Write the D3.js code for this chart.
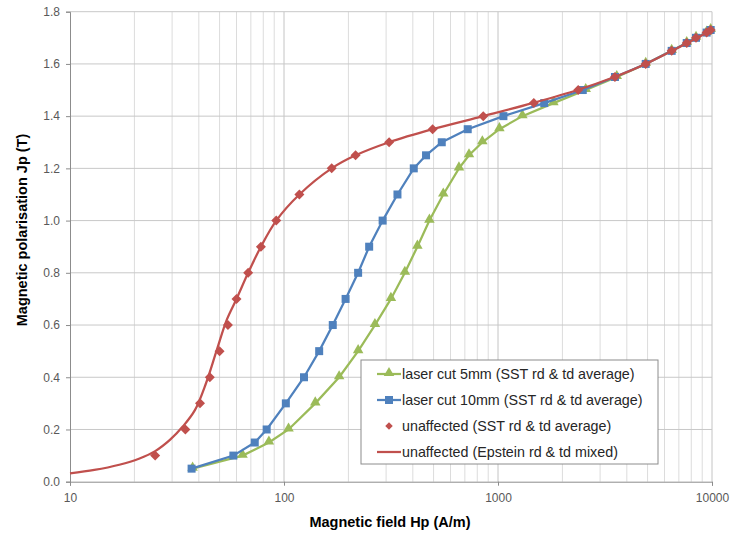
<!DOCTYPE html>
<html>
<head>
<meta charset="utf-8">
<script src="https://cdn.jsdelivr.net/npm/d3@7"></script>
<style>
  body { margin: 0; background: #fff; }
  text { font-family: "Liberation Sans", Arial, sans-serif; }
</style>
</head>
<body>
<div id="chart"></div>
<script>
const WIDTH = 731;
const HEIGHT = 534;
const M = { left: 70, right: 19, top: 11.7, bottom: 52.3 };

// unaffected, SST rd & td average (markers only)
const sstH = [25, 34.6, 40.5, 45, 50, 54.7, 60, 68, 78, 92, 118, 167, 216, 310, 495, 853, 1470, 2370, 3520, 4900, 6480, 7620, 8420, 9440, 9860];
const sstJ = [0.1, 0.2, 0.3, 0.4, 0.5, 0.6, 0.7, 0.8, 0.9, 1.0, 1.1, 1.2, 1.25, 1.3, 1.35, 1.4, 1.45, 1.5, 1.55, 1.6, 1.65, 1.68, 1.7, 1.72, 1.73];

// laser cut 10mm
const cut10H = [37, 58, 73, 83, 102, 124, 146, 169, 194, 222, 250, 289, 339, 404, 461, 546, 722, 1060, 1645, 2490, 3520, 4900, 6480, 7620, 8420, 9440, 9860];
const cut10J = [0.05, 0.1, 0.15, 0.2, 0.3, 0.4, 0.5, 0.6, 0.7, 0.8, 0.9, 1.0, 1.1, 1.2, 1.25, 1.3, 1.35, 1.4, 1.45, 1.5, 1.55, 1.6, 1.65, 1.68, 1.7, 1.72, 1.73];

// laser cut 5mm
const cut5H = [37.4, 64, 85, 105, 140, 181, 222, 266, 316, 367, 420, 478, 555, 657, 732, 845, 1015, 1300, 1815, 2570, 3590, 4900, 6480, 7620, 8420, 9440, 9860];
const cut5J = [0.05, 0.1, 0.15, 0.2, 0.3, 0.4, 0.5, 0.6, 0.7, 0.8, 0.9, 1.0, 1.1, 1.2, 1.25, 1.3, 1.35, 1.4, 1.45, 1.5, 1.55, 1.6, 1.65, 1.68, 1.7, 1.72, 1.73];

// unaffected, Epstein rd & td mixed (smooth line)
const epsH = [10, 13, 17, 21, 25, 29.3, 33.8, 38.4, 43.2, 48.5, 54, 60, 68, 78, 92, 118, 167, 216, 310, 495, 853, 1450, 2350, 3500, 4900, 6500, 10000];
const epsJ = [0.032, 0.045, 0.065, 0.088, 0.117, 0.16, 0.213, 0.275, 0.377, 0.504, 0.62, 0.7, 0.8, 0.9, 1.0, 1.1, 1.2, 1.25, 1.3, 1.35, 1.4, 1.45, 1.5, 1.55, 1.6, 1.65, 1.73];

const xTicks = [10, 100, 1000, 10000];
const yTicks = [0, 0.2, 0.4, 0.6, 0.8, 1.0, 1.2, 1.4, 1.6, 1.8];

const legendLabels = [
  "laser cut 5mm (SST rd & td average)",
  "laser cut 10mm (SST rd & td average)",
  "unaffected (SST rd & td average)",
  "unaffected (Epstein rd & td mixed)"
];

const GREEN = "#9bbb59", BLUE = "#4f81bd", RED = "#c0504d";

const svg = d3.select("#chart").append("svg")
  .attr("width", WIDTH).attr("height", HEIGHT);

const x = d3.scaleLog().domain([10, 10000]).range([M.left, WIDTH - M.right]);
const y = d3.scaleLinear().domain([0, 1.8]).range([HEIGHT - M.bottom, M.top]);

// minor vertical gridlines
const minor = [];
[10, 100, 1000].forEach(d => { for (let k = 2; k <= 9; k++) minor.push(d * k); });
svg.append("g").selectAll("line").data(minor).enter().append("line")
  .attr("x1", d => x(d)).attr("x2", d => x(d))
  .attr("y1", y(0)).attr("y2", y(1.8))
  .attr("stroke", "#dcdcdc").attr("stroke-width", 1);

// major vertical gridlines
svg.append("g").selectAll("line").data(xTicks.slice(1)).enter().append("line")
  .attr("x1", d => x(d)).attr("x2", d => x(d))
  .attr("y1", y(0)).attr("y2", y(1.8))
  .attr("stroke", "#c4c4c4").attr("stroke-width", 1);

// horizontal gridlines
svg.append("g").selectAll("line").data(yTicks.slice(1)).enter().append("line")
  .attr("x1", x(10)).attr("x2", x(10000))
  .attr("y1", d => y(d)).attr("y2", d => y(d))
  .attr("stroke", "#c8c8c8").attr("stroke-width", 1);

// axes
const xAxis = svg.append("g")
  .attr("transform", `translate(0,${y(0)})`)
  .call(d3.axisBottom(x).tickValues(xTicks).tickFormat(d3.format("d")).tickSize(4).tickPadding(8));
const yAxis = svg.append("g")
  .attr("transform", `translate(${x(10)},0)`)
  .call(d3.axisLeft(y).tickValues(yTicks).tickFormat(d3.format(".1f")).tickSize(4).tickPadding(6));
[xAxis, yAxis].forEach(a => {
  a.select(".domain").attr("stroke", "#8c8c8c");
  a.selectAll(".tick line").attr("stroke", "#8c8c8c");
  a.selectAll(".tick text").attr("fill", "#595959")
    .style("font-family", "Liberation Sans, Arial, sans-serif").style("font-size", "12px");
});

// series
const line = d3.line().x(d => x(d[0])).y(d => y(d[1]));
const smooth = d3.line().x(d => x(d[0])).y(d => y(d[1])).curve(d3.curveCatmullRom.alpha(0.5));

const cut5 = cut5H.map((h, i) => [h, cut5J[i]]);
const cut10 = cut10H.map((h, i) => [h, cut10J[i]]);
const sst = sstH.map((h, i) => [h, sstJ[i]]);
const eps = epsH.map((h, i) => [h, epsJ[i]]);

const tri = d3.symbol().type(d3.symbolTriangle).size(48)();
const sq = d3.symbol().type(d3.symbolSquare).size(64)();
const dia = d3.symbol().type(d3.symbolSquare).size(50)();

svg.append("path").datum(cut5).attr("d", line)
  .attr("fill", "none").attr("stroke", GREEN).attr("stroke-width", 2.25);
svg.append("g").selectAll("path").data(cut5).enter().append("path")
  .attr("d", tri).attr("transform", d => `translate(${x(d[0])},${y(d[1]) - 1})`)
  .attr("fill", GREEN);

svg.append("path").datum(cut10).attr("d", line)
  .attr("fill", "none").attr("stroke", BLUE).attr("stroke-width", 2.25);
svg.append("g").selectAll("path").data(cut10).enter().append("path")
  .attr("d", sq).attr("transform", d => `translate(${x(d[0])},${y(d[1])})`)
  .attr("fill", BLUE);

svg.append("g").selectAll("path").data(sst).enter().append("path")
  .attr("d", dia).attr("transform", d => `translate(${x(d[0])},${y(d[1])}) rotate(45)`)
  .attr("fill", RED);

svg.append("path").datum(eps).attr("d", smooth)
  .attr("fill", "none").attr("stroke", RED).attr("stroke-width", 2.25);

// axis titles
svg.append("text")
  .attr("x", 390).attr("y", 527)
  .attr("text-anchor", "middle")
  .style("font-size", "14.5px").style("font-weight", "bold")
  .text("Magnetic field Hp (A/m)");

svg.append("text")
  .attr("transform", "translate(27,230) rotate(-90)")
  .attr("text-anchor", "middle")
  .style("font-size", "14.5px").style("font-weight", "bold")
  .text("Magnetic polarisation Jp (T)");

// legend
const lg = svg.append("g").attr("transform", "translate(361,360)");
lg.append("rect").attr("width", 297).attr("height", 104)
  .attr("fill", "#fff").attr("stroke", "#8c8c8c").attr("stroke-width", 1);

const rows = [
  { color: GREEN, mark: tri, line: true, rot: 0, dy: -1 },
  { color: BLUE, mark: sq, line: true, rot: 0, dy: 0 },
  { color: RED, mark: d3.symbol().type(d3.symbolSquare).size(28)(), line: false, rot: 45, dy: 0 },
  { color: RED, mark: null, line: true, rot: 0, dy: 0 }
];
rows.forEach((r, i) => {
  const ry = 14 + i * 26;
  const g = lg.append("g").attr("transform", `translate(0,${ry})`);
  if (r.line) g.append("line").attr("x1", 16).attr("x2", 40).attr("y1", 0).attr("y2", 0)
    .attr("stroke", r.color).attr("stroke-width", 2.25);
  if (r.mark) g.append("path").attr("d", r.mark)
    .attr("transform", `translate(28,${r.dy}) rotate(${r.rot})`).attr("fill", r.color);
  g.append("text").attr("x", 41).attr("y", 0).attr("dy", "0.35em")
    .style("font-size", "14.3px").attr("fill", "#262626")
    .text(legendLabels[i]);
});
</script>
</body>
</html>
